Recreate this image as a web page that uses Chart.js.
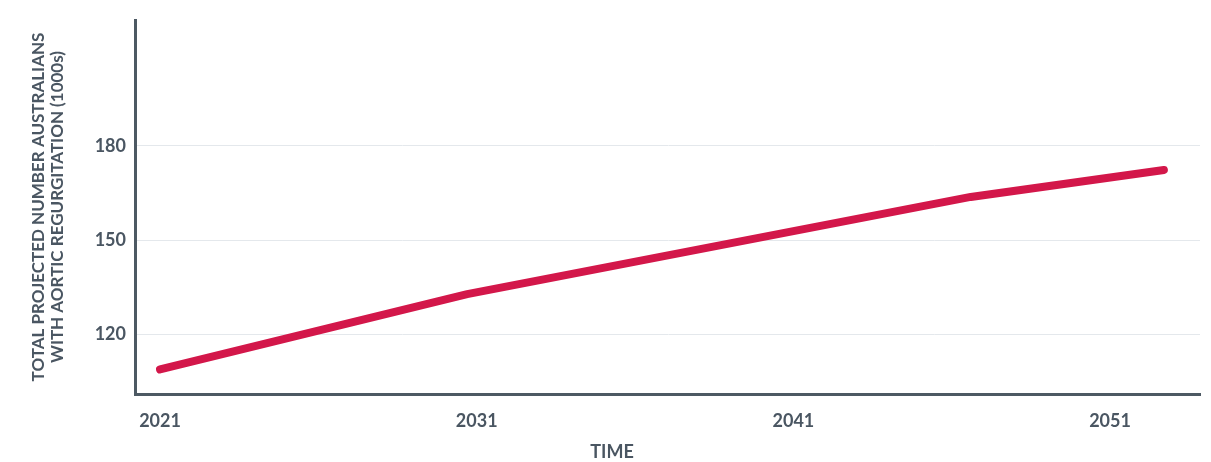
<!DOCTYPE html>
<html>
<head>
<meta charset="utf-8">
<script src="https://cdn.jsdelivr.net/npm/chart.js@4/dist/chart.umd.min.js"></script>
<style>
  html, body { margin: 0; padding: 0; background: #fff; }
  #wrap { width: 1211px; height: 462px; }
</style>
</head>
<body>
<div id="wrap"><canvas id="chart" width="1211" height="462"></canvas></div>
<script>
// data (x = year position on the time axis)
const years  = [2021, 2030.7, 2046.6, 2052.7];
const totals = [108.8, 132.8, 163.7, 172.3];
const xTicks = [2021, 2031, 2041, 2051];
const yTicks = [120, 150, 180];
const xTitle = 'TIME';

const TEXT = '#4a5662';
const AXIS = '#4d5963';
const GRID = '#e4e8ec';
const RED  = '#d3174a';
const FONT = "'Lato', 'Open Sans', sans-serif";

// x title sits centred on the whole figure, not on the plot area
const xTitlePlugin = {
  id: 'xTitle',
  afterDraw(chart) {
    const c = chart.ctx;
    c.save();
    c.font = `bold 18px ${FONT}`;
    c.fillStyle = TEXT;
    c.textAlign = 'center';
    c.textBaseline = 'middle';
    c.fillText(xTitle, 612, 452);
    c.restore();
  },
};

const ctx = document.getElementById('chart').getContext('2d');

new Chart(ctx, {
  type: 'line',
  data: {
    datasets: [{
      label: 'Aortic regurgitation',
      data: years.map((y, i) => ({ x: y, y: totals[i] })),
      borderColor: RED,
      borderWidth: 8,
      borderCapStyle: 'round',
      borderJoinStyle: 'round',
      pointRadius: 0,
      tension: 0,
      fill: false,
    }],
  },
  options: {
    responsive: false,
    animation: false,
    layout: { padding: { top: 20, right: 11, left: 0, bottom: 0 } },
    plugins: {
      legend: { display: false },
      tooltip: { enabled: false },
    },
    scales: {
      x: {
        type: 'linear',
        min: 2020.21,
        max: 2053.84,
        afterBuildTicks: s => { s.ticks = xTicks.map(v => ({ value: v })); },
        afterFit: s => { s.height = 68; },
        grid: { display: true, drawOnChartArea: false, drawTicks: false },
        border: { display: true, color: AXIS, width: 3 },
        ticks: {
          color: TEXT,
          padding: 16,
          maxRotation: 0,
          font: { family: FONT, size: 18, weight: 'bold' },
          callback: v => String(v),
        },
        title: { display: false },
      },
      y: {
        min: 101,
        max: 220,
        afterBuildTicks: s => { s.ticks = yTicks.map(v => ({ value: v })); },
        afterFit: s => { s.width = 135; },
        grid: { color: GRID, lineWidth: 1, drawTicks: false },
        border: { display: true, color: AXIS, width: 3 },
        ticks: {
          color: TEXT,
          padding: 9,
          font: { family: FONT, size: 18, weight: 'bold' },
        },
        title: {
          display: true,
          text: ['TOTAL PROJECTED NUMBER AUSTRALIANS', 'WITH AORTIC REGURGITATION (1000s)'],
          color: TEXT,
          padding: { top: 29, bottom: 0 },
          font: { family: FONT, size: 17, weight: 'bold', lineHeight: 1.12 },
        },
      },
    },
  },
  plugins: [xTitlePlugin],
});
</script>
</body>
</html>
